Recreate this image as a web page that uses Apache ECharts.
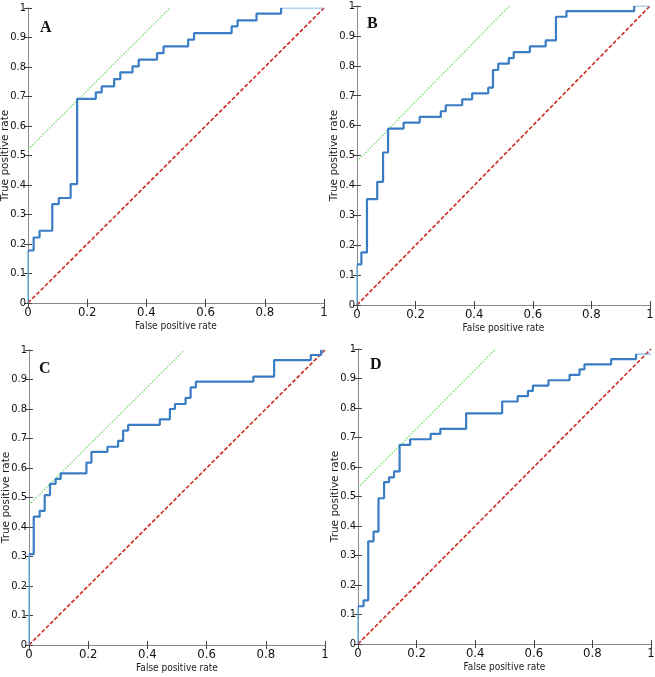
<!DOCTYPE html>
<html><head><meta charset="utf-8">
<script src="https://cdn.jsdelivr.net/npm/echarts@6/dist/echarts.min.js"></script>
<style>html,body{margin:0;padding:0;background:#fff}#c{width:655px;height:677px}</style>
</head><body><div id="c"></div>
<script>
const panelLetters = ['A', 'B', 'C', 'D'];
const xTicks = [0, 0.2, 0.4, 0.6, 0.8, 1];
const yTicks = [0, 0.1, 0.2, 0.3, 0.4, 0.5, 0.6, 0.7, 0.8, 0.9, 1];
const xAxisName = 'False positive rate';
const yAxisName = 'True positive rate';

const fprA = [0, 0.019, 0.039, 0.082, 0.104, 0.144, 0.166, 0.229, 0.249, 0.291, 0.312, 0.353, 0.374, 0.436, 0.458, 0.541, 0.561, 0.688, 0.708, 0.772, 0.855];
const tprA = [0.178, 0.222, 0.245, 0.335, 0.356, 0.403, 0.692, 0.714, 0.734, 0.759, 0.782, 0.802, 0.825, 0.847, 0.870, 0.893, 0.915, 0.938, 0.958, 0.981, 1.0];

const fprB = [0, 0.015, 0.034, 0.069, 0.089, 0.106, 0.159, 0.214, 0.286, 0.303, 0.359, 0.393, 0.448, 0.464, 0.482, 0.518, 0.535, 0.590, 0.644, 0.679, 0.715, 0.946];
const tprB = [0.136, 0.176, 0.354, 0.412, 0.510, 0.590, 0.610, 0.629, 0.648, 0.668, 0.688, 0.708, 0.727, 0.786, 0.807, 0.826, 0.846, 0.865, 0.885, 0.964, 0.983, 1.0];

const fprC = [0, 0.016, 0.036, 0.053, 0.071, 0.090, 0.107, 0.194, 0.211, 0.265, 0.301, 0.318, 0.335, 0.442, 0.476, 0.493, 0.529, 0.546, 0.564, 0.758, 0.828, 0.952, 0.987];
const tprC = [0.308, 0.435, 0.455, 0.508, 0.546, 0.563, 0.582, 0.618, 0.655, 0.672, 0.692, 0.727, 0.746, 0.765, 0.800, 0.817, 0.838, 0.873, 0.893, 0.910, 0.966, 0.983, 1.0];

const fprD = [0, 0.019, 0.035, 0.053, 0.070, 0.089, 0.106, 0.123, 0.142, 0.178, 0.248, 0.281, 0.369, 0.492, 0.545, 0.580, 0.597, 0.650, 0.722, 0.756, 0.773, 0.864, 0.949];
const tprD = [0.128, 0.148, 0.348, 0.381, 0.494, 0.549, 0.565, 0.585, 0.675, 0.694, 0.712, 0.729, 0.782, 0.822, 0.840, 0.858, 0.876, 0.894, 0.912, 0.931, 0.948, 0.966, 0.983];

// intercept of the slope-1 tangent line through the optimal operating point
const tangentIntercepts = [0.52, 0.48, 0.475, 0.53];

const fprs = [fprA, fprB, fprC, fprD];
const tprs = [tprA, tprB, tprC, tprD];

const grids = [
  {left: 28, top: 8, width: 296, height: 295},
  {left: 357, top: 6, width: 293, height: 299},
  {left: 29, top: 350, width: 296, height: 295},
  {left: 358, top: 349, width: 293, height: 295}
];
const letterPos = [[40, 20], [367, 16], [39, 361], [370, 357]];

const tickFont = "'DejaVu Sans Condensed','Liberation Sans Narrow','Arial Narrow','Liberation Sans',Arial,sans-serif";
const nameFontY = "'DejaVu Sans','Liberation Sans',Arial,sans-serif";
const axisGray = '#8a8a8a';

const xAxes = [], yAxes = [], series = [], titles = [];
grids.forEach((g, i) => {
  xAxes.push({
    gridIndex: i, type: 'value', min: 0, max: 1, interval: 0.2, position: 'bottom',
    name: xAxisName, nameLocation: 'middle', nameGap: 18, nameMoveOverlap: false,
    nameTextStyle: {fontFamily: tickFont, fontSize: 10, color: '#222'},
    axisLine: {show: true, lineStyle: {color: axisGray, width: 1}},
    axisTick: {show: true, inside: true, length: 4, lineStyle: {color: '#444'}},
    axisLabel: {margin: 3, fontFamily: tickFont, fontSize: 13, color: '#111'},
    splitLine: {show: false}
  });
  xAxes.push({
    gridIndex: i, type: 'value', min: 0, max: 1, interval: 0.2, position: 'top',
    axisLine: {show: true, lineStyle: {color: axisGray, width: 1}},
    axisTick: {show: true, inside: true, length: 4, lineStyle: {color: '#444'}},
    axisLabel: {show: false}, splitLine: {show: false}
  });
  yAxes.push({
    gridIndex: i, type: 'value', min: 0, max: 1, interval: 0.1, position: 'left',
    name: yAxisName, nameLocation: 'middle', nameGap: 17, nameMoveOverlap: false,
    nameTextStyle: {fontFamily: nameFontY, fontSize: 10.5, color: '#222'},
    axisLine: {show: true, lineStyle: {color: axisGray, width: 1}},
    axisTick: {show: true, inside: true, length: 4, lineStyle: {color: '#444'}},
    axisLabel: {margin: 2, fontFamily: tickFont, fontSize: 11, color: '#111'},
    splitLine: {show: false}
  });
  yAxes.push({
    gridIndex: i, type: 'value', min: 0, max: 1, interval: 0.1, position: 'right',
    axisLine: {show: true, lineStyle: {color: axisGray, width: 1}},
    axisTick: {show: true, inside: true, length: 4, lineStyle: {color: '#444'}},
    axisLabel: {show: false}, splitLine: {show: false}
  });

  const fpr = fprs[i], tpr = tprs[i];
  // build ROC staircase corners from the data
  const thick = [];
  for (let k = 0; k < fpr.length; k++) {
    if (k > 0) thick.push([fpr[k], tpr[k - 1]]);
    thick.push([fpr[k], tpr[k]]);
  }
  const last = tpr[tpr.length - 1];
  const thinStart = [[0, 0], [0, tpr[0]]];
  const thinEnd = [[fpr[fpr.length - 1], last], [1, last]];
  const b = tangentIntercepts[i];

  const xi = i * 2, yi = i * 2;
  series.push({
    type: 'line', xAxisIndex: xi, yAxisIndex: yi, data: [[0, 0], [1, 1]],
    symbol: 'none', silent: true,
    lineStyle: {color: '#cc2a22', width: 1.6, type: [4, 2]}, z: 2
  });
  series.push({
    type: 'line', xAxisIndex: xi, yAxisIndex: yi, data: [[0, b], [1 - b, 1]],
    symbol: 'none', silent: true,
    lineStyle: {color: '#78dc6e', width: 1.3, type: [1.5, 1.5]}, z: 3
  });
  series.push({
    type: 'line', xAxisIndex: xi, yAxisIndex: yi, data: thinStart,
    symbol: 'none', silent: true,
    lineStyle: {color: '#5aa9e6', width: 1.2}, z: 4
  });
  series.push({
    type: 'line', xAxisIndex: xi, yAxisIndex: yi, data: thinEnd,
    symbol: 'none', silent: true,
    lineStyle: {color: '#5aa9e6', width: 1.2}, z: 4
  });
  series.push({
    type: 'line', xAxisIndex: xi, yAxisIndex: yi, data: thick,
    symbol: 'none', silent: true,
    lineStyle: {color: '#3a7dc4', width: 2.2}, z: 5
  });

  titles.push({
    text: panelLetters[i], left: letterPos[i][0], top: letterPos[i][1], padding: 0,
    textStyle: {fontFamily: "'Liberation Serif','Times New Roman',serif", fontWeight: 'bold', fontSize: 16, color: '#111'}
  });
});

const chart = echarts.init(document.getElementById('c'), null, {renderer: 'canvas'});
chart.setOption({
  animation: false,
  backgroundColor: '#fff',
  title: titles,
  grid: grids.map(g => Object.assign({containLabel: false, outerBoundsMode: 'none'}, g)),
  xAxis: xAxes,
  yAxis: yAxes,
  series: series
});
</script>
</body></html>
